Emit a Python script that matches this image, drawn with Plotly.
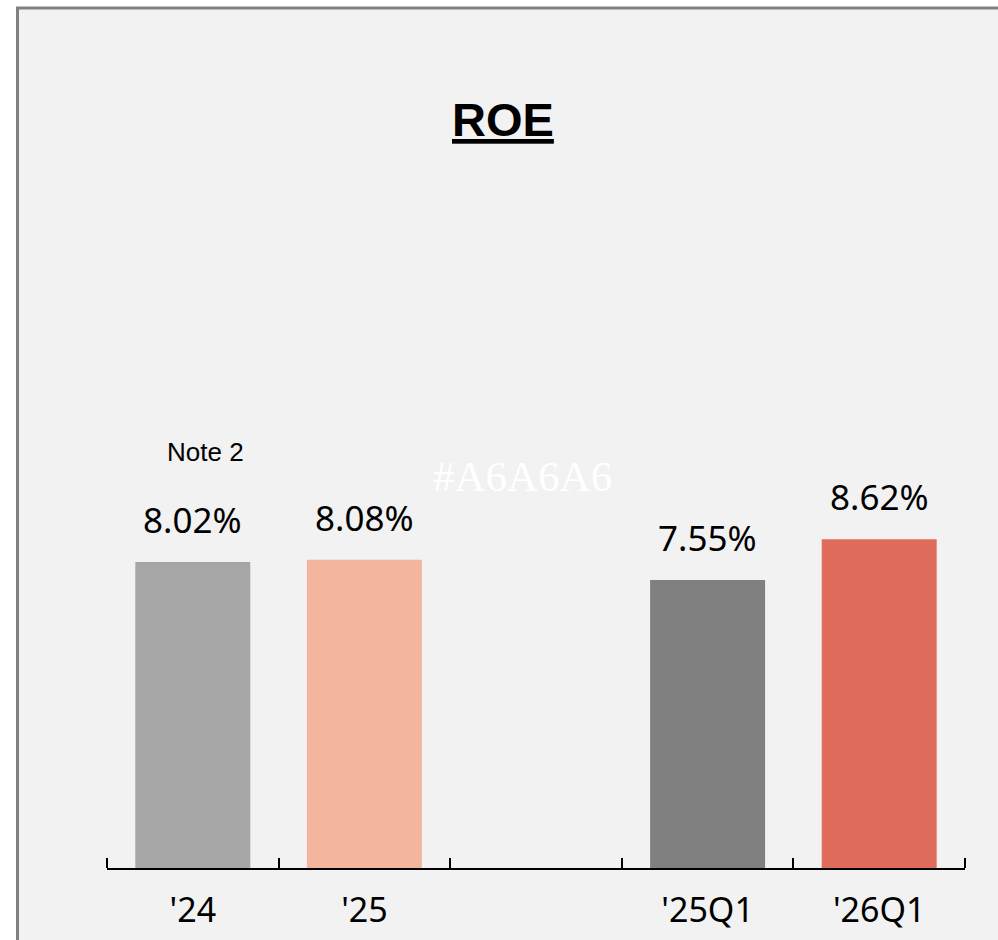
import plotly.graph_objects as go

categories = ["'24", "'25", " ", "'25Q1", "'26Q1"]
roe_values = [8.02, 8.08, None, 7.55, 8.62]
value_labels = ["8.02%", "8.08%", "", "7.55%", "8.62%"]
bar_colors = ["#A6A6A6", "#F4B59E", "#F2F2F2", "#808080", "#E06C5C"]
title_text = "<u>ROE</u>"
note_text = "Note 2"
watermark_text = "#A6A6A6"

W, H = 998, 940
ml, mr, mt, mb = 107, 33, 105, 72
pw, ph = W - ml - mr, H - mt - mb

def px_x(p):
    return (p - ml) / pw

def px_y(p):
    return (H - mb - p) / ph

fig = go.Figure()
fig.add_trace(go.Bar(
    x=categories, y=roe_values, marker_color=bar_colors,
    marker_line_width=0, width=0.67, hoverinfo="skip",
))

annotations = []
for c, v, t in zip(categories, roe_values, value_labels):
    if v is None:
        continue
    annotations.append(dict(
        x=c, y=v, xref="x", yref="y", text=t, showarrow=False,
        yanchor="bottom", yshift=17,
        font=dict(family="Noto Sans", size=35, color="#000000"),
    ))

annotations.append(dict(
    x=px_x(503), y=px_y(119), xref="paper", yref="paper", text=title_text,
    showarrow=False, xanchor="center", yanchor="middle",
    font=dict(family="Liberation Sans", size=47, color="#000000", weight="bold"),
))
annotations.append(dict(
    x=categories[0], y=px_y(452), xref="x", yref="paper", text=note_text,
    showarrow=False, xanchor="center", yanchor="middle", xshift=13,
    font=dict(family="Liberation Sans", size=26, color="#000000"),
))
annotations.append(dict(
    x=px_x(522), y=px_y(476), xref="paper", yref="paper", text=watermark_text,
    showarrow=False, xanchor="center", yanchor="middle",
    font=dict(family="Liberation Serif", size=43, color="#FFFFFF"),
))

end_ticks = [
    dict(type="line", xref="paper", yref="paper", x0=xp, x1=xp,
         y0=0, y1=10 / ph, line=dict(color="#000000", width=2))
    for xp in (0, 1)
]

fig.update_layout(
    width=W, height=H,
    margin=dict(l=ml, r=mr, t=mt, b=mb, pad=0),
    paper_bgcolor="#FFFFFF",
    plot_bgcolor="rgba(0,0,0,0)",
    showlegend=False,
    bargap=0.33,
    annotations=annotations,
    shapes=[dict(
        type="rect", xref="paper", yref="paper", layer="below",
        x0=px_x(17.5), x1=px_x(1010), y0=px_y(950), y1=px_y(8),
        fillcolor="#F2F2F2", line=dict(color="#808080", width=3),
    )] + end_ticks,
    xaxis=dict(
        type="category", tickson="boundaries", showline=True,
        linecolor="#000000", linewidth=2, ticks="inside", ticklen=10,
        tickwidth=2, tickcolor="#000000", showgrid=False, zeroline=False,
        tickfont=dict(family="Noto Sans", size=34, color="#000000"),
        ticklabelstandoff=11, automargin=False,
    ),
    yaxis=dict(range=[0, 20], visible=False, showgrid=False, zeroline=False,
               automargin=False),
)

fig.write_html("out.html", config={"displayModeBar": False},
               post_script="document.body.style.margin='0px';document.body.style.overflow='hidden';")
